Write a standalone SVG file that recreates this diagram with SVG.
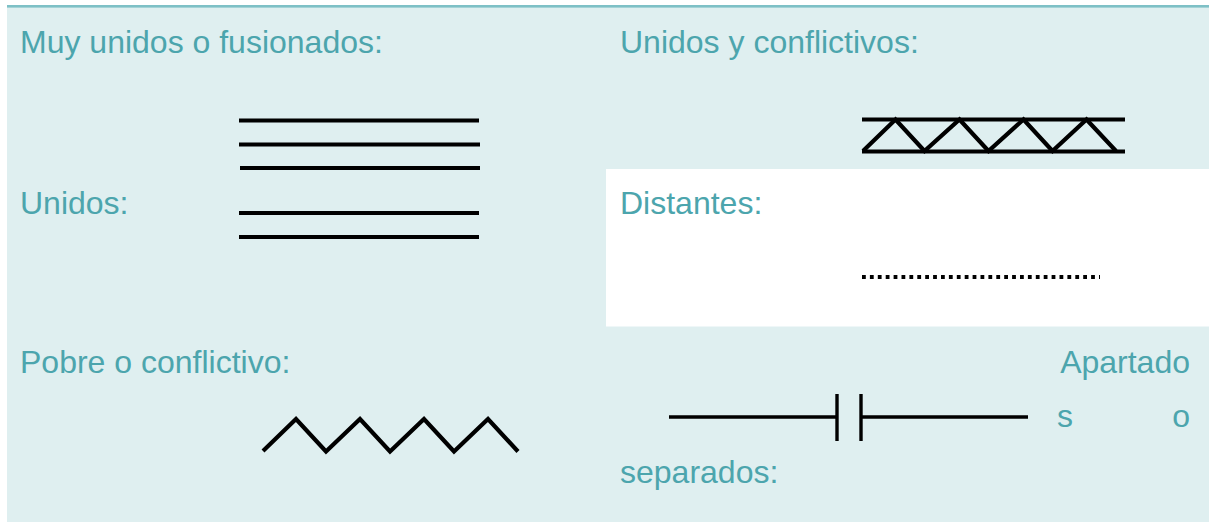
<svg xmlns="http://www.w3.org/2000/svg" width="1209" height="522" viewBox="0 0 1209 522">
<style>
.lbl{font-family:"Liberation Sans",Arial,sans-serif;font-size:32px;fill:#4CA5AD}
.ln{stroke:#000;stroke-width:4;fill:none}
.zz{stroke:#000;stroke-width:4.2;fill:none;stroke-linejoin:miter}
.sp{stroke:#000;stroke-width:3.4}
</style>
<rect x="0" y="0" width="1209" height="522" fill="#ffffff"/>
<rect x="7" y="7" width="1202" height="515" fill="#DFEFF0"/>
<rect x="7" y="5" width="1202" height="2.6" fill="#7EC0C6"/>
<rect x="606" y="169" width="603" height="157.5" fill="#ffffff"/>

<g id="muy-unidos">
<text class="lbl" x="20" y="53">Muy unidos o fusionados:</text>
<line class="ln" x1="239" y1="120.5" x2="479" y2="120.5"/>
<line class="ln" x1="239" y1="144.5" x2="480" y2="144.5"/>
<line class="ln" x1="240" y1="168" x2="480" y2="168"/>
</g>

<g id="unidos">
<text class="lbl" x="20" y="214">Unidos:</text>
<line class="ln" x1="239" y1="213" x2="479" y2="213"/>
<line class="ln" x1="239" y1="237" x2="479" y2="237"/>
</g>

<g id="unidos-conflictivos">
<text class="lbl" x="620" y="53">Unidos y conflictivos:</text>
<line class="ln" x1="862" y1="119.5" x2="1125" y2="119.5"/>
<line class="ln" x1="862" y1="151.5" x2="1125" y2="151.5"/>
<polyline class="zz" points="863,151 895.5,119.5 924.5,151 959.5,119.5 988.5,151 1023.5,119.5 1052.5,151 1086.5,119.5 1116,151"/>
</g>

<g id="distantes">
<text class="lbl" x="620" y="214">Distantes:</text>
<line x1="862" y1="277" x2="1100" y2="277" stroke="#000" stroke-width="4" stroke-dasharray="3.8 4.1"/>
</g>

<g id="pobre">
<text class="lbl" x="20" y="373">Pobre o conflictivo:</text>
<polyline class="zz" points="263,451 296,419 326,451.5 360,419 390,451.5 424,419 454,451.5 488,419 518,451.5"/>
</g>

<g id="apartados">
<text class="lbl"><tspan x="1190" y="373" text-anchor="end">Apartado</tspan><tspan x="1057" y="427">s</tspan><tspan x="1190" y="427" text-anchor="end">o</tspan><tspan x="620" y="483">separados:</tspan></text>
<line class="sp" x1="669" y1="417" x2="836" y2="417"/>
<line class="sp" x1="837" y1="394" x2="837" y2="441"/>
<line class="sp" x1="861" y1="394" x2="861" y2="441"/>
<line class="sp" x1="860" y1="417" x2="1028" y2="417"/>
</g>
</svg>
